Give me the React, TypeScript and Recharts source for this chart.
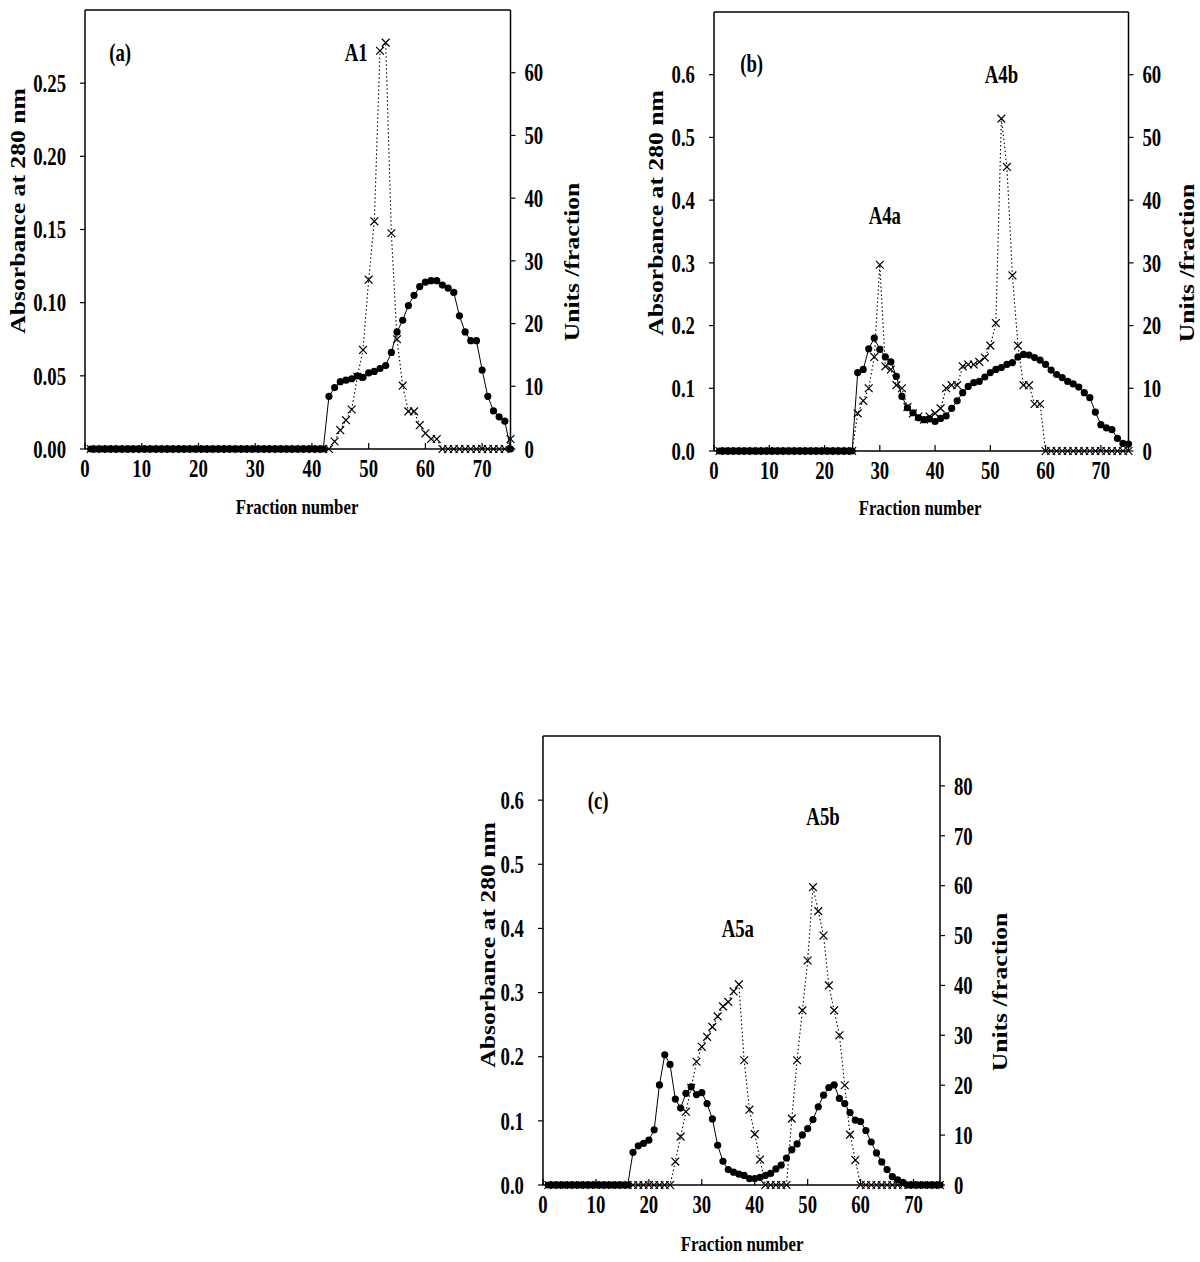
import { LineChart, Line, XAxis, YAxis, ReferenceLine, ReferenceDot } from "recharts";

// fraction numbers (x axis)
const fractions = [
  1, 2, 3, 4, 5, 6, 7, 8, 9, 10, 11, 12, 13, 14, 15, 16, 17, 18, 19, 20,
  21, 22, 23, 24, 25, 26, 27, 28, 29, 30, 31, 32, 33, 34, 35, 36, 37, 38, 39, 40,
  41, 42, 43, 44, 45, 46, 47, 48, 49, 50, 51, 52, 53, 54, 55, 56, 57, 58, 59, 60,
  61, 62, 63, 64, 65, 66, 67, 68, 69, 70, 71, 72, 73, 74, 75,
];

// (a) absorbance at 280 nm
const absA = [
  0, 0, 0, 0, 0, 0, 0, 0, 0, 0,
  0, 0, 0, 0, 0, 0, 0, 0, 0, 0,
  0, 0, 0, 0, 0, 0, 0, 0, 0, 0,
  0, 0, 0, 0, 0, 0, 0, 0, 0, 0,
  0, 0, 0.036, 0.042, 0.046, 0.047, 0.048, 0.05, 0.049, 0.052,
  0.053, 0.055, 0.057, 0.066, 0.08, 0.088, 0.098, 0.105, 0.111, 0.114,
  0.115, 0.115, 0.112, 0.11, 0.107, 0.091, 0.08, 0.074, 0.074, 0.054,
  0.036, 0.026, 0.022, 0.019, 0,
];
// (a) units / fraction
const unitsA = [
  0, 0, 0, 0, 0, 0, 0, 0, 0, 0,
  0, 0, 0, 0, 0, 0, 0, 0, 0, 0,
  0, 0, 0, 0, 0, 0, 0, 0, 0, 0,
  0, 0, 0, 0, 0, 0, 0, 0, 0, 0,
  0, 0, 0, 1.2, 3.0, 4.6, 6.3, 11.5, 15.8, 27,
  36.3, 63.5, 64.8, 34.4, 17.5, 10.1, 6.0, 6.0, 3.8, 2.5,
  1.6, 1.6, 0, 0, 0, 0, 0, 0, 0, 0,
  0, 0, 0, 0, 1.6,
];

// (b)
const absB = [
  0, 0, 0, 0, 0, 0, 0, 0, 0, 0,
  0, 0, 0, 0, 0, 0, 0, 0, 0, 0,
  0, 0, 0, 0, 0, 0.125, 0.13, 0.163, 0.18, 0.162,
  0.15, 0.142, 0.119, 0.087, 0.069, 0.061, 0.053, 0.05, 0.051, 0.047,
  0.052, 0.056, 0.068, 0.08, 0.093, 0.103, 0.109, 0.111, 0.118, 0.125,
  0.13, 0.133, 0.138, 0.141, 0.15, 0.154, 0.153, 0.149, 0.145, 0.138,
  0.129, 0.122, 0.117, 0.111, 0.107, 0.102, 0.093, 0.085, 0.062, 0.042,
  0.037, 0.034, 0.02, 0.012, 0.011,
];
const unitsB = [
  0, 0, 0, 0, 0, 0, 0, 0, 0, 0,
  0, 0, 0, 0, 0, 0, 0, 0, 0, 0,
  0, 0, 0, 0, 0, 6.0, 8.0, 10.0, 15.0, 29.7,
  13.5, 13.0, 10.5, 10.0, 7.0, 6.0, 5.5, 5.0, 5.5, 6.0,
  6.8, 10.0, 10.5, 10.5, 13.5, 13.8, 13.8, 14.2, 14.9, 16.8,
  20.4, 53.0, 45.3, 28.0, 16.8, 10.5, 10.5, 7.5, 7.5, 0,
  0, 0, 0, 0, 0, 0, 0, 0, 0, 0,
  0, 0, 0, 0, 0,
];

// (c)
const absC = [
  0, 0, 0, 0, 0, 0, 0, 0, 0, 0,
  0, 0, 0, 0, 0, 0, 0.051, 0.061, 0.065, 0.07,
  0.086, 0.156, 0.203, 0.188, 0.134, 0.12, 0.143, 0.153, 0.141, 0.144,
  0.127, 0.103, 0.062, 0.037, 0.024, 0.02, 0.017, 0.015, 0.01, 0.01,
  0.012, 0.015, 0.018, 0.025, 0.031, 0.042, 0.055, 0.064, 0.078, 0.088,
  0.102, 0.122, 0.14, 0.152, 0.156, 0.135, 0.127, 0.113, 0.101, 0.099,
  0.085, 0.067, 0.05, 0.036, 0.024, 0.013, 0.008, 0.004, 0, 0,
  0, 0, 0, 0, 0,
];
const unitsC = [
  0, 0, 0, 0, 0, 0, 0, 0, 0, 0,
  0, 0, 0, 0, 0, 0, 0, 0, 0, 0,
  0, 0, 0, 0, 4.7, 9.7, 14.7, 19.5, 24.7, 27.7,
  29.7, 31.7, 33.8, 35.8, 36.7, 38.8, 40.2, 25, 15.1, 10.2,
  5.1, 0, 0, 0, 0, 0, 13.3, 25, 35, 45,
  59.7, 54.9, 50, 40, 35, 30, 20, 10.1, 5, 0,
  0, 0, 0, 0, 0, 0, 0, 0, 0, 0,
  0, 0, 0, 0, 0,
];

const xTicks = [0, 10, 20, 30, 40, 50, 60, 70];
const absTicksA = [0, 0.05, 0.1, 0.15, 0.2, 0.25];
const absTicksBC = [0, 0.1, 0.2, 0.3, 0.4, 0.5, 0.6];
const unitsTicksAB = [0, 10, 20, 30, 40, 50, 60];
const unitsTicksC = [0, 10, 20, 30, 40, 50, 60, 70, 80];

const FONT = '"Liberation Serif", "Times New Roman", serif';

// bold serif text, squeezed horizontally like the scanned figure
function SText({ x, y, children, anchor = "middle", size = 25, sx = 0.75, dy = "0.35em" }: any) {
  return (
    <g transform={`translate(${x},${y})`}>
      <text
        transform={`scale(${sx},1)`}
        textAnchor={anchor}
        dy={dy}
        fontFamily={FONT}
        fontWeight="bold"
        fontSize={size}
        fill="#000"
      >
        {children}
      </text>
    </g>
  );
}

const circleDot = (p: any) => {
  if (p.cx == null || p.cy == null) return <g key={`c${p.index}`} />;
  return <circle key={`c${p.index}`} cx={p.cx} cy={p.cy} r={3.6} fill="#000" />;
};

const crossDot = (p: any) => {
  if (p.cx == null || p.cy == null) return <g key={`x${p.index}`} />;
  const s = 3.9;
  return (
    <path
      key={`x${p.index}`}
      d={`M${p.cx - s},${p.cy - s}L${p.cx + s},${p.cy + s}M${p.cx - s},${p.cy + s}L${p.cx + s},${p.cy - s}`}
      stroke="#000"
      strokeWidth={1.2}
      fill="none"
    />
  );
};

function VTitle({ x, y, text }: any) {
  return (
    <div
      style={{
        position: "absolute",
        left: x,
        top: y,
        transform: "translate(-50%,-50%) rotate(-90deg) scaleX(1.22)",
        fontFamily: FONT,
        fontWeight: "bold",
        fontSize: 21,
        lineHeight: 1,
        whiteSpace: "nowrap",
      }}
    >
      {text}
    </div>
  );
}

function HTitle({ x, y, text }: any) {
  return (
    <div
      style={{
        position: "absolute",
        left: x,
        top: y,
        transform: "translate(-50%,-50%) scaleX(0.8)",
        fontFamily: FONT,
        fontWeight: "bold",
        fontSize: 21,
        lineHeight: 1,
        whiteSpace: "nowrap",
      }}
    >
      {text}
    </div>
  );
}

function Panel(props: any) {
  const {
    plotLeft, plotTop, plotW, plotH, abs, units, absMax, absTicks, absDigits,
    unitsMax, unitsTicks, notes, leftTitle, rightTitle, bottomTitle,
  } = props;
  const rows = fractions.map((f, i) => ({ f, abs: abs[i], units: units[i] }));
  const axisStyle = { stroke: "#000", strokeWidth: 1.5 };

  return (
    <>
      <div style={{ position: "absolute", left: plotLeft - 90, top: plotTop - 10 }}>
        <LineChart
          width={plotW + 180}
          height={plotH + 90}
          data={rows}
          margin={{ top: 10, right: 0, bottom: 0, left: 0 }}
        >
          <XAxis
            dataKey="f"
            type="number"
            domain={[0, 75]}
            ticks={xTicks}
            height={80}
            axisLine={axisStyle}
            tickLine={{ stroke: "#000", strokeWidth: 1.2 }}
            tickSize={-6}
            tickMargin={25}
            tick={(p: any) => <SText x={p.x} y={p.y}>{p.payload.value}</SText>}
          />
          <YAxis
            yAxisId="left"
            domain={[0, absMax]}
            ticks={absTicks}
            width={90}
            axisLine={axisStyle}
            tickLine={{ stroke: "#000", strokeWidth: 1.2 }}
            tickSize={5}
            tickMargin={14}
            tick={(p: any) => (
              <SText x={p.x} y={p.y} anchor="end">{Number(p.payload.value).toFixed(absDigits)}</SText>
            )}
          />
          <YAxis
            yAxisId="right"
            orientation="right"
            domain={[0, unitsMax]}
            ticks={unitsTicks}
            width={90}
            axisLine={axisStyle}
            tickLine={{ stroke: "#000", strokeWidth: 1.2 }}
            tickSize={5}
            tickMargin={9}
            tick={(p: any) => <SText x={p.x} y={p.y} anchor="start">{p.payload.value}</SText>}
          />
          <ReferenceLine yAxisId="left" y={absMax} stroke="#000" strokeWidth={1.5} />
          <Line
            yAxisId="right"
            type="linear"
            dataKey="units"
            stroke="#000"
            strokeWidth={1.1}
            strokeDasharray="1.5 2.5"
            dot={crossDot}
            activeDot={false}
            isAnimationActive={false}
          />
          <Line
            yAxisId="left"
            type="linear"
            dataKey="abs"
            stroke="#000"
            strokeWidth={1}
            dot={circleDot}
            activeDot={false}
            isAnimationActive={false}
          />
          {notes.map((n: any) => (
            <ReferenceDot
              key={n.text}
              yAxisId="left"
              x={n.f}
              y={n.a}
              r={0}
              ifOverflow="visible"
              shape={(p: any) => <SText x={p.cx} y={p.cy} size={25} sx={0.75}>{n.text}</SText>}
            />
          ))}
        </LineChart>
      </div>
      <VTitle x={leftTitle[0]} y={leftTitle[1]} text="Absorbance at 280 nm" />
      <VTitle x={rightTitle[0]} y={rightTitle[1]} text="Units /fraction" />
      <HTitle x={bottomTitle[0]} y={bottomTitle[1]} text="Fraction number" />
    </>
  );
}

export default function App() {
  return (
    <div
      style={{
        position: "absolute",
        left: 0,
        top: 0,
        width: 1200,
        height: 1262,
        background: "#fff",
        overflow: "hidden",
      }}
    >
      <Panel
        plotLeft={84.5}
        plotTop={10}
        plotW={425.5}
        plotH={439}
        abs={absA}
        units={unitsA}
        absMax={0.3}
        absTicks={absTicksA}
        absDigits={2}
        unitsMax={70}
        unitsTicks={unitsTicksAB}
        notes={[
          { text: "(a)", f: 6.2, a: 0.271 },
          { text: "A1", f: 47.8, a: 0.271 },
        ]}
        leftTitle={[17.5, 211]}
        rightTitle={[572, 262]}
        bottomTitle={[297, 507]}
      />
      <Panel
        plotLeft={713.5}
        plotTop={12}
        plotW={414.5}
        plotH={439}
        abs={absB}
        units={unitsB}
        absMax={0.7}
        absTicks={absTicksBC}
        absDigits={1}
        unitsMax={70}
        unitsTicks={unitsTicksAB}
        notes={[
          { text: "(b)", f: 6.8, a: 0.619 },
          { text: "A4a", f: 30.9, a: 0.376 },
          { text: "A4b", f: 52, a: 0.601 },
        ]}
        leftTitle={[656, 213]}
        rightTitle={[1187, 263]}
        bottomTitle={[920, 508]}
      />
      <Panel
        plotLeft={543}
        plotTop={736}
        plotW={397}
        plotH={449}
        abs={absC}
        units={unitsC}
        absMax={0.7}
        absTicks={absTicksBC}
        absDigits={1}
        unitsMax={90}
        unitsTicks={unitsTicksC}
        notes={[
          { text: "(c)", f: 10.4, a: 0.6 },
          { text: "A5a", f: 36.8, a: 0.4 },
          { text: "A5b", f: 52.9, a: 0.575 },
        ]}
        leftTitle={[487.5, 945]}
        rightTitle={[1000, 992]}
        bottomTitle={[742, 1244]}
      />
    </div>
  );
}
